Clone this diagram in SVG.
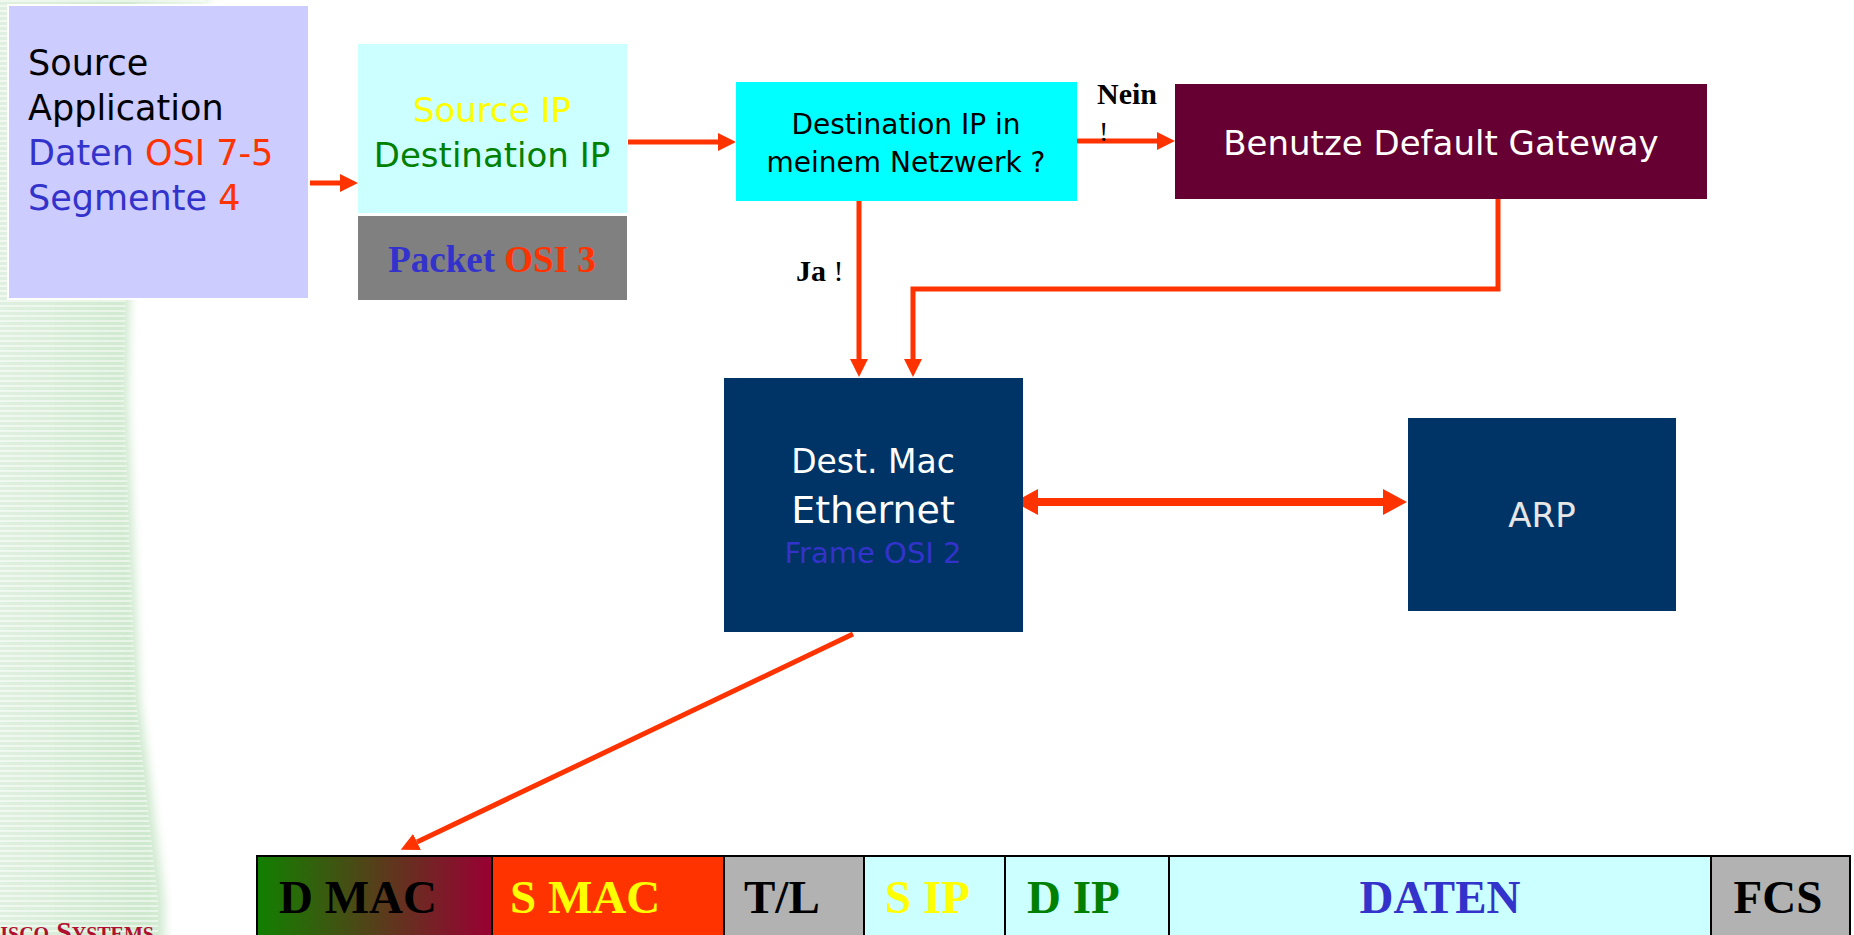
<svg xmlns="http://www.w3.org/2000/svg" width="1854" height="935" viewBox="0 0 1854 935">
  <style>
    .sans { font-family: "DejaVu Sans", Verdana, sans-serif; }
    .serif { font-family: "Liberation Serif", "Times New Roman", serif; }
    .bold { font-weight: bold; }
    .mid { text-anchor: middle; }
    .wire { fill: none; stroke: #FF3300; stroke-width: 5; stroke-linejoin: miter; }
    .wire-thick { fill: none; stroke: #FF3300; stroke-width: 8; }
    .cell { stroke: #000000; stroke-width: 2; }
    .field { font-family: "Liberation Serif", "Times New Roman", serif; font-weight: bold; font-size: 47px; }
  </style>
  <defs>
    <marker id="head" markerUnits="userSpaceOnUse" markerWidth="18" markerHeight="18" refX="0" refY="9" orient="auto">
      <path d="M0,0 L18,9 L0,18 z" fill="#FF3300"/>
    </marker>
    <marker id="headBig" markerUnits="userSpaceOnUse" markerWidth="24" markerHeight="26" refX="0" refY="13" orient="auto-start-reverse">
      <path d="M0,0 L24,13 L0,26 z" fill="#FF3300"/>
    </marker>
    <linearGradient id="bgGreen" x1="0" y1="0" x2="1" y2="0">
      <stop offset="0" stop-color="#E2F1E2"/>
      <stop offset="0.7" stop-color="#CDE8CD"/>
      <stop offset="1" stop-color="#E8F5E8"/>
    </linearGradient>
    <pattern id="stripes" width="12" height="5" patternUnits="userSpaceOnUse">
      <rect width="12" height="2" fill="#FFFFFF" opacity="0.5"/>
    </pattern>
    <filter id="soft" x="-0.2" y="-0.05" width="1.4" height="1.1">
      <feGaussianBlur stdDeviation="5"/>
    </filter>
    <linearGradient id="dmacFill" x1="0" y1="0" x2="1" y2="0">
      <stop offset="0" stop-color="#118000"/>
      <stop offset="1" stop-color="#990033"/>
    </linearGradient>
  </defs>

  <rect width="1854" height="935" fill="#FFFFFF"/>

  <!-- slide backdrop: striped green band on the left edge -->
  <g id="backdrop">
    <g filter="url(#soft)">
      <polygon points="-10,-10 210,-10 210,6 135,6 128,400 140,700 165,900 165,945 -10,945" fill="url(#bgGreen)"/>
    </g>
    <polygon points="0,0 205,0 205,5 130,5 124,400 136,700 158,900 158,935 0,935" fill="url(#stripes)"/>
    <text x="-20" y="941" class="serif bold" font-size="28" font-variant="small-caps" fill="#B01030">Cisco Systems</text>
  </g>

  <!-- connectors -->
  <g id="connectors">
    <path class="wire" d="M294,183 L340,183" marker-end="url(#head)"/>
    <path class="wire" d="M628,142 L718,142" marker-end="url(#head)"/>
    <path class="wire" d="M1077,141 L1157,141" marker-end="url(#head)"/>
    <path class="wire" d="M859,201 L859,359" marker-end="url(#head)"/>
    <path class="wire" d="M1498,199 L1498,289 L913,289 L913,359" marker-end="url(#head)"/>
    <path class="wire-thick" d="M1038,502 L1383,502" marker-start="url(#headBig)" marker-end="url(#headBig)"/>
    <path class="wire" d="M853,634 L417,842" marker-end="url(#head)"/>
    <text x="1097" y="104" class="serif bold" font-size="30">Nein</text>
    <text x="1099" y="141" class="serif" font-size="28">!</text>
    <text x="796" y="281" class="serif" font-size="30"><tspan class="bold">Ja</tspan> !</text>
  </g>

  <!-- application data -->
  <g id="source-app">
    <rect x="8" y="5" width="301" height="294" fill="#CCCCFF" stroke="#FFFFFF" stroke-width="2"/>
    <text class="sans" font-size="35" x="28" y="75" fill="#000000">Source</text>
    <text class="sans" font-size="35" x="28" y="120" fill="#000000">Application</text>
    <text class="sans" font-size="35" x="28" y="165"><tspan fill="#3333CC">Daten </tspan><tspan fill="#FF3300">OSI 7-5</tspan></text>
    <text class="sans" font-size="35" x="28" y="210"><tspan fill="#3333CC">Segmente </tspan><tspan fill="#FF3300">4</tspan></text>
  </g>

  <!-- layer 3 header -->
  <g id="ip-header">
    <rect x="358" y="44" width="269" height="169" fill="#CCFFFF"/>
    <text class="sans mid" font-size="34" x="492" y="122" fill="#FFFF00">Source IP</text>
    <text class="sans mid" font-size="34" x="492" y="167" fill="#008000">Destination IP</text>
  </g>
  <g id="packet">
    <rect x="358" y="216" width="269" height="84" fill="#808080"/>
    <text class="serif bold mid" font-size="37" x="492" y="272"><tspan fill="#3333CC">Packet </tspan><tspan fill="#FF3300">OSI 3</tspan></text>
  </g>

  <!-- routing decision -->
  <g id="dest-check">
    <rect x="736" y="82" width="341" height="119" fill="#00FFFF"/>
    <text class="sans mid" font-size="28" x="906" y="134" fill="#000000">Destination IP in</text>
    <text class="sans mid" font-size="28" x="906" y="172" fill="#000000">meinem Netzwerk ?</text>
  </g>
  <g id="gateway">
    <rect x="1175" y="84" width="532" height="115" fill="#660033"/>
    <text class="sans mid" font-size="34" x="1441" y="155" fill="#FFFFFF">Benutze Default Gateway</text>
  </g>

  <!-- layer 2 -->
  <g id="dest-mac">
    <rect x="724" y="378" width="299" height="254" fill="#003366"/>
    <text class="sans mid" font-size="33" x="873" y="473" fill="#FFFFFF">Dest. Mac</text>
    <text class="sans mid" font-size="38" x="873" y="523" fill="#FFFFFF">Ethernet</text>
    <text class="sans mid" font-size="29" x="873" y="563" fill="#3333CC">Frame OSI 2</text>
  </g>
  <g id="arp">
    <rect x="1408" y="418" width="268" height="193" fill="#003366"/>
    <text class="sans mid" font-size="34" x="1542" y="527" fill="#E6E6E6">ARP</text>
  </g>

  <!-- ethernet frame layout -->
  <g id="frame">
    <rect class="cell" x="257" y="856" width="235" height="90" fill="url(#dmacFill)"/>
    <rect class="cell" x="492" y="856" width="232" height="90" fill="#FF3300"/>
    <rect class="cell" x="724" y="856" width="140" height="90" fill="#B2B2B2"/>
    <rect class="cell" x="864" y="856" width="141" height="90" fill="#CCFFFF"/>
    <rect class="cell" x="1005" y="856" width="164" height="90" fill="#CCFFFF"/>
    <rect class="cell" x="1169" y="856" width="542" height="90" fill="#CCFFFF"/>
    <rect class="cell" x="1711" y="856" width="139" height="90" fill="#B2B2B2"/>
    <text class="field" x="279" y="913" fill="#000000">D MAC</text>
    <text class="field" x="510" y="913" fill="#FFFF00">S MAC</text>
    <text class="field" x="744" y="913" fill="#000000">T/L</text>
    <text class="field" x="885" y="913" fill="#FFFF00">S IP</text>
    <text class="field" x="1027" y="913" fill="#008000">D IP</text>
    <text class="field mid" x="1440" y="913" fill="#3333CC">DATEN</text>
    <text class="field mid" x="1778" y="913" fill="#000000">FCS</text>
  </g>
</svg>
